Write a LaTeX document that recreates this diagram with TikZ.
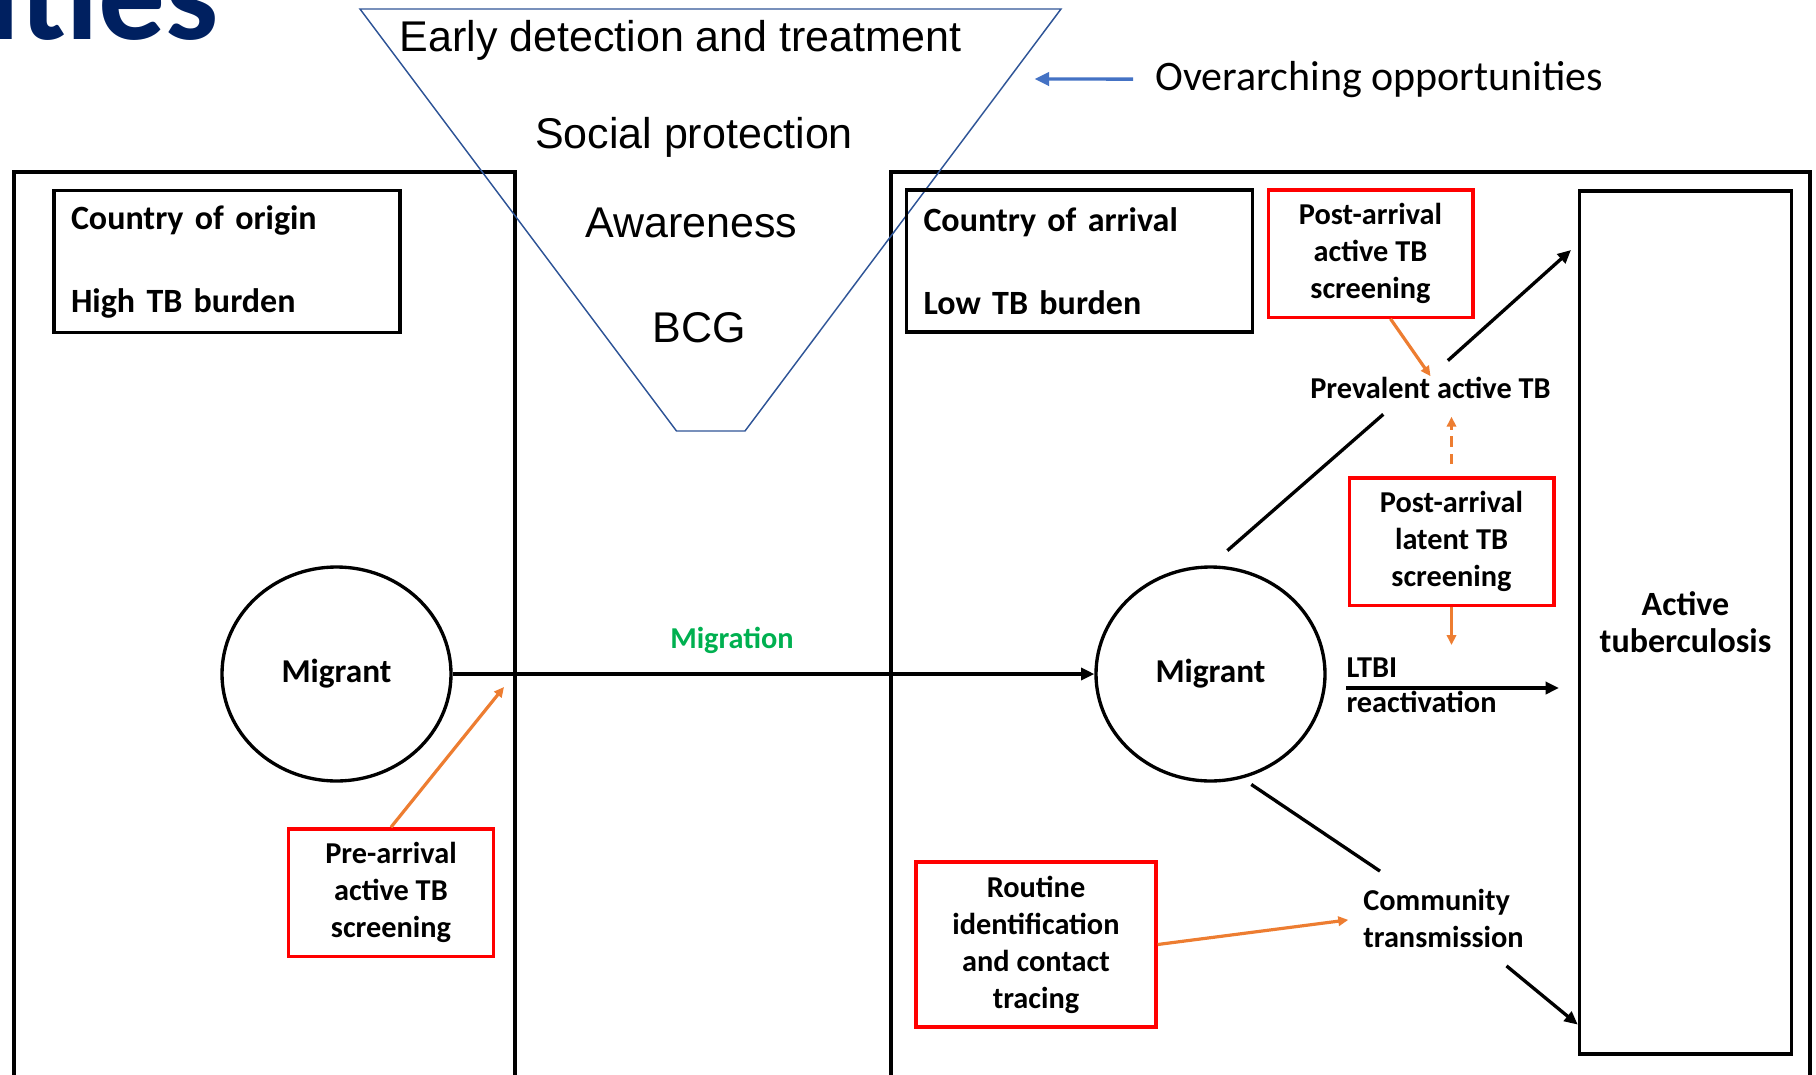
\documentclass[tikz,border=0pt]{standalone}
\usepackage{fontspec}
\setmainfont{Carlito}
\newfontfamily\arialfont{Liberation Sans}
\usetikzlibrary{arrows.meta,shapes.geometric}
\tikzset{every picture/.style={line width=0.75pt}}
\definecolor{titlenavy}{RGB}{0,32,96}
\definecolor{funnelblue}{RGB}{47,85,151}
\definecolor{pointblue}{RGB}{68,114,196}
\definecolor{tborange}{RGB}{237,125,49}
\definecolor{migrgreen}{RGB}{0,176,80}
\tikzset{
  panel/.style={line width=3pt},
  countrybox/.style={draw, rectangle, line width=2.6pt, minimum width=259.5pt, minimum height=106.5pt, text width=234pt, inner xsep=12.75pt, inner ysep=0pt, align=left, font=\fontsize{25.5}{62.25}\selectfont\bfseries},
  screenbox/.style={draw=red, rectangle, line width=2.5pt, minimum width=153.5pt, minimum height=95.5pt, inner sep=0pt, align=center, font=\fontsize{22.75}{27.75}\selectfont\bfseries},
  migrant/.style={draw, ellipse, line width=2.5pt, minimum width=171.75pt, minimum height=160.5pt, inner sep=0pt, font=\fontsize{25}{30}\selectfont\bfseries},
  smalllabel/.style={inner sep=0pt, align=left, font=\fontsize{22.75}{27.75}\selectfont\bfseries},
  funnelline/.style={draw=funnelblue, line width=1.1pt},
  funneltext/.style={inner sep=0pt, anchor=base, font=\arialfont\fontsize{32.25}{38}\selectfont},
  flow/.style={line width=2.5pt, -{Triangle[length=10pt,width=9pt]}},
  plainflow/.style={line width=2.5pt},
  screenarrow/.style={draw=tborange, line width=2.4pt, -{Triangle[length=7.5pt,width=7pt]}},
  pointer/.style={draw=pointblue, line width=2.6pt, -{Triangle[length=11pt,width=10pt]}}
}

\begin{document}
\begin{tikzpicture}[x=0.75pt,y=0.75pt,yscale=-1,xscale=1]
\useasboundingbox (0,0) rectangle (1816,1074);
\clip (0,0) rectangle (1816,1074);

% Text Node
\node[anchor=base east, inner sep=0pt, text=titlenavy, font=\fontsize{100}{110}\selectfont\bfseries] (title) at (219,40) {ities};

%Shape: Rectangle
\draw[panel] (14,172) rectangle (515,1090);
%Shape: Rectangle
\draw[panel] (891,172) rectangle (1810,1090);

%Shape: Funnel
\draw[funnelline] (360,9) -- (1061,9) -- (745,431) -- (676.5,431) -- cycle;
% Text Node
\node[funneltext] (early) at (680.5,52) {Early detection and treatment};
\node[funneltext] (social) at (694,148) {Social protection};
\node[funneltext] (aware) at (691.5,237) {Awareness};
\node[funneltext] (bcg) at (699.5,342) {BCG};

% Text Node
\node[anchor=base west, inner sep=0pt, font=\fontsize{31.5}{38}\selectfont] (over) at (1155,90) {Overarching opportunities};
\coordinate (overtip) at (1034.5,79);
\draw[pointer, shorten <=16.5pt] (over.west) -- (overtip);

% Boxes
\node[countrybox] (origin) at (227,261.5) {Country of origin\\High TB burden};
\node[countrybox] (arrival) at (1079.5,261) {Country of arrival\\Low TB burden};
\node[screenbox] (postactive) at (1370.5,253.5) {Post-arrival\\active TB\\screening};
\node[screenbox] (latent) at (1451.5,541.5) {Post-arrival\\latent TB\\screening};
\node[screenbox] (prearrival) at (391,892.5) {Pre-arrival\\active TB\\screening};
\node[screenbox, minimum width=180pt, minimum height=123.75pt] (routine) at (1036,944.5) {Routine\\identification\\and contact\\tracing};
\node[draw, rectangle, line width=2.6pt, minimum width=159pt, minimum height=647.25pt, inner sep=0pt, align=center, font=\fontsize{25.5}{27.75}\selectfont\bfseries] (activetb) at (1685.5,622.5) {Active\\tuberculosis};

% Migrants
\node[migrant] (migorigin) at (336.5,674) {Migrant};
\node[migrant] (migarrival) at (1210.5,674) {Migrant};

% Text Node
\node[smalllabel, anchor=base] (prevalent) at (1430.5,398) {Prevalent active TB};
\node[smalllabel] (community) at (1443.5,918) {Community\\transmission};
\node[smalllabel, anchor=base west] (ltbi) at (1346,677) {LTBI};
\node[smalllabel, anchor=base west] (react) at (1346,712) {reactivation};
\node[smalllabel, text=migrgreen] (migration) at (732,640) {Migration};

% Connectors
\draw[flow] (migorigin.east) -- (migarrival.west);
\coordinate (prehit) at (504,687);
\draw[screenarrow] (prearrival.north) -- (prehit);
\draw[screenarrow] (postactive.-73) -- (prevalent.north);
\draw[plainflow, shorten <=16.8pt, shorten >=17.8pt] (migarrival.north) -- (prevalent.201);
\coordinate (topentry) at (1571,250);
\draw[flow, shorten <=17.5pt] (prevalent.north) -- (topentry);
\draw[screenarrow, dash pattern=on 8pt off 5pt, shorten <=9pt, shorten >=13.5pt] (latent.north) -- (latent.north |- prevalent.south);
\coordinate (latentdrop) at (1451.5,645);
\draw[screenarrow] (latent.south) -- (latentdrop);
\coordinate (ltbifrom) at (1346,688);
\coordinate (ltbito) at (1559,688);
\draw[flow] (ltbifrom) -- (ltbito);
\draw[plainflow, shorten <=8pt, shorten >=23pt] (migarrival.-73) -- (community.142);
\draw[flow, shorten <=21.4pt] (community.-36) -- (activetb.255);
\draw[screenarrow, shorten >=11pt] (routine.east) -- (community.west);
\end{tikzpicture}
\end{document}
